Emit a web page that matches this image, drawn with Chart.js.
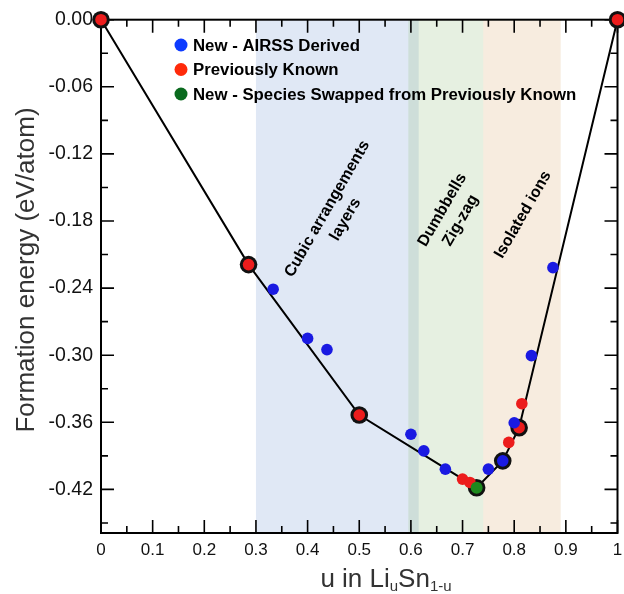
<!DOCTYPE html>
<html>
<head>
<meta charset="utf-8">
<script src="https://cdn.jsdelivr.net/npm/chart.js@4"></script>
<style>
  body { margin: 0; background: #fff; }
  #wrap { width: 624px; height: 594px; }
</style>
</head>
<body>
<div id="wrap"><canvas id="chart" width="624" height="594"></canvas></div>
<script>
// ground-state line (convex hull)
const hullU = [0, 0.2857, 0.5, 0.7273, 0.7778, 0.8095, 1];
const hullE = [0, -0.219, -0.3535, -0.4185, -0.3945, -0.3648, 0];

// New - AIRSS Derived
const airssU = [0.3333, 0.4, 0.4375, 0.6, 0.625, 0.6667, 0.75, 0.7778, 0.8, 0.8333, 0.875];
const airssE = [-0.241, -0.285, -0.295, -0.3707, -0.3856, -0.4019, -0.4019, -0.3945, -0.3604, -0.3004, -0.2217];

// Previously Known
const knownU = [0, 0.2857, 0.5, 0.7, 0.7143, 0.7895, 0.8095, 0.8148, 1];
const knownE = [0, -0.219, -0.3535, -0.4108, -0.4138, -0.378, -0.3648, -0.3434, 0];

// New - Species Swapped from Previously Known
const swapU = [0.7273];
const swapE = [-0.4185];

const legendLabels = ["New - AIRSS Derived", "Previously Known", "New - Species Swapped from Previously Known"];

const xTicks = [0, 0.1, 0.2, 0.3, 0.4, 0.5, 0.6, 0.7, 0.8, 0.9, 1];
const xTickLabels = ["0", "0.1", "0.2", "0.3", "0.4", "0.5", "0.6", "0.7", "0.8", "0.9", "1"];
const yTicks = [0, -0.06, -0.12, -0.18, -0.24, -0.30, -0.36, -0.42];
const yTickLabels = ["0.00", "-0.06", "-0.12", "-0.18", "-0.24", "-0.30", "-0.36", "-0.42"];

// structural regions
const bandStart = [0.3, 0.595, 0.74];
const bandEnd   = [0.615, 0.74, 0.89];
const bandColor = ["rgba(165,190,225,0.35)", "rgba(140,185,120,0.22)", "rgba(225,180,130,0.26)"];

const noteText = [["Cubic arrangements", "layers"], ["Dumbbells", "Zig-zag"], ["Isolated ions"]];
const noteU = [0.4557, 0.6785, 0.817];
const noteE = [-0.1739, -0.1748, -0.1744];

const FONT = "'Liberation Sans', Arial, Helvetica, sans-serif";
const pts = (us, es) => us.map((u, i) => ({ x: u, y: es[i] }));

const decor = {
    id: "decor",
    beforeDatasetsDraw(chart) {
        const { ctx, chartArea: a, scales: { x, y } } = chart;
        ctx.save();
        // shaded regions
        bandStart.forEach((s, i) => {
            const x0 = x.getPixelForValue(s), x1 = x.getPixelForValue(bandEnd[i]);
            ctx.fillStyle = bandColor[i];
            ctx.fillRect(x0, a.top, x1 - x0, a.bottom - a.top);
        });
        // frame + inward ticks on all sides
        ctx.strokeStyle = "#000";
        ctx.lineWidth = 2;
        ctx.strokeRect(a.left, a.top, a.right - a.left, a.bottom - a.top);
        ctx.lineWidth = 1.6;
        ctx.beginPath();
        xTicks.forEach((v, i) => {
            const px = x.getPixelForValue(v);
            ctx.moveTo(px, a.bottom); ctx.lineTo(px, a.bottom - 13);
            ctx.moveTo(px, a.top); ctx.lineTo(px, a.top + 13);
            if (i < xTicks.length - 1) {
                const pm = x.getPixelForValue(v + 0.05);
                ctx.moveTo(pm, a.bottom); ctx.lineTo(pm, a.bottom - 7);
                ctx.moveTo(pm, a.top); ctx.lineTo(pm, a.top + 7);
            }
        });
        yTicks.forEach(v => {
            const py = y.getPixelForValue(v);
            ctx.moveTo(a.left, py); ctx.lineTo(a.left + 13, py);
            ctx.moveTo(a.right, py); ctx.lineTo(a.right - 13, py);
            const pm = y.getPixelForValue(v - 0.03);
            ctx.moveTo(a.left, pm); ctx.lineTo(a.left + 7, pm);
            ctx.moveTo(a.right, pm); ctx.lineTo(a.right - 7, pm);
        });
        ctx.stroke();
        // x tick labels
        ctx.fillStyle = "#111";
        ctx.font = "17px " + FONT;
        ctx.textAlign = "center";
        ctx.textBaseline = "middle";
        xTicks.forEach((v, i) => ctx.fillText(xTickLabels[i], x.getPixelForValue(v), a.bottom + 17));
        ctx.restore();
    },
    afterDatasetsDraw(chart) {
        const { ctx, chartArea: a, scales: { x, y } } = chart;
        ctx.save();
        // rotated region labels
        ctx.fillStyle = "#000";
        ctx.font = "bold 16px " + FONT;
        ctx.textAlign = "center";
        ctx.textBaseline = "middle";
        noteText.forEach((lines, i) => {
            ctx.save();
            ctx.translate(x.getPixelForValue(noteU[i]), y.getPixelForValue(noteE[i]));
            ctx.rotate(-60 * Math.PI / 180);
            const lh = 21;
            lines.forEach((t, j) => ctx.fillText(t, 0, (j - (lines.length - 1) / 2) * lh));
            ctx.restore();
        });
        // legend
        const legColors = ["#0d3bff", "#ff2a0a", "#0a6a1e"];
        ctx.textAlign = "left";
        ctx.font = "bold 16.8px " + FONT;
        legendLabels.forEach((t, i) => {
            const ly = 45 + i * 24.5;
            ctx.fillStyle = legColors[i];
            ctx.beginPath(); ctx.arc(181, ly, 6.5, 0, Math.PI * 2); ctx.fill();
            ctx.fillStyle = "#000";
            ctx.fillText(t, 193, ly + 1);
        });
        // axis titles
        ctx.fillStyle = "#333";
        ctx.font = "26px " + FONT;
        ctx.save();
        ctx.translate(27, 270);
        ctx.rotate(-Math.PI / 2);
        ctx.textAlign = "center";
        ctx.fillText("Formation energy (eV/atom)", 0, 0);
        ctx.restore();
        // x title with subscripts
        const parts = [["u in Li", 26, 0], ["u", 15, 4], ["Sn", 26, 0], ["1-u", 15, 4]];
        let w = 0;
        parts.forEach(p => { ctx.font = p[1] + "px " + FONT; w += ctx.measureText(p[0]).width; });
        let cx = 386 - w / 2;
        ctx.textAlign = "left";
        ctx.textBaseline = "alphabetic";
        parts.forEach(p => {
            ctx.font = p[1] + "px " + FONT;
            ctx.fillText(p[0], cx, 587 + p[2]);
            cx += ctx.measureText(p[0]).width;
        });
        ctx.restore();
    }
};

new Chart(document.getElementById("chart"), {
    type: "scatter",
    data: {
        datasets: [
            { label: legendLabels[2], data: pts(swapU, swapE), backgroundColor: "#1e8a1e",
              pointRadius: 6, borderWidth: 0, order: 0, clip: false },
            { label: legendLabels[0], data: pts(airssU, airssE), backgroundColor: "#1a1ae2",
              pointRadius: 5.8, borderWidth: 0, order: 1, clip: false },
            { label: legendLabels[1], data: pts(knownU, knownE), backgroundColor: "#ec1c1c",
              pointRadius: 5.8, borderWidth: 0, order: 2, clip: false },
            { type: "line", label: "hull", data: pts(hullU, hullE), borderColor: "#000", borderWidth: 2,
              pointRadius: 8.8, pointBackgroundColor: "#111", pointBorderWidth: 0,
              tension: 0, fill: false, order: 3, clip: false },
        ],
    },
    options: {
        responsive: false,
        animation: false,
        layout: { autoPadding: false, padding: { left: 0, right: 6.5, top: 16, bottom: 0 } },
        plugins: { legend: { display: false }, tooltip: { enabled: false } },
        scales: {
            x: {
                min: 0, max: 1,
                grid: { display: false, drawTicks: false },
                border: { display: false },
                afterBuildTicks: s => { s.ticks = xTicks.map(v => ({ value: v })); },
                afterFit: s => { s.height = 61; },
                ticks: { display: false },
            },
            y: {
                min: -0.459, max: 0,
                grid: { display: false, drawTicks: false },
                border: { display: false },
                afterBuildTicks: s => { s.ticks = yTicks.map(v => ({ value: v })); },
                afterFit: s => { s.width = 101; },
                ticks: { callback: (v, i) => yTickLabels[i], color: "#111", padding: 8,
                         font: { family: FONT, size: 19.5 } },
            },
        },
    },
    plugins: [decor],
});
</script>
</body>
</html>
